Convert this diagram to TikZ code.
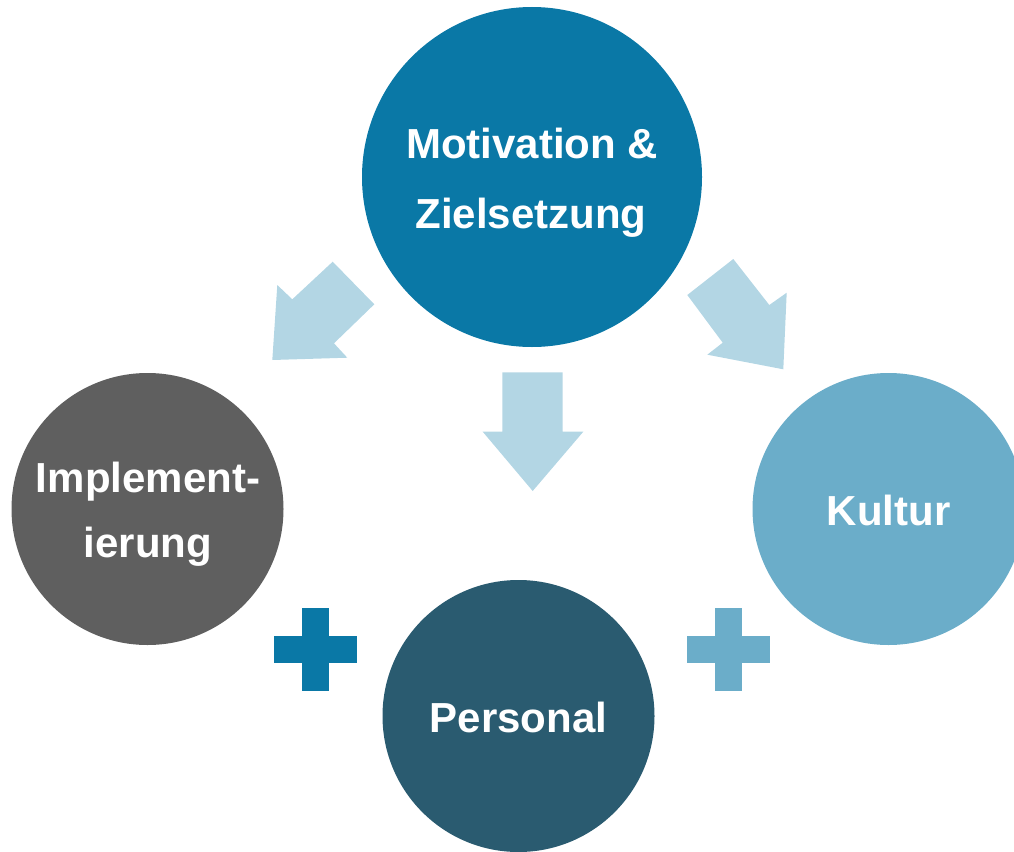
\documentclass[tikz,border=0pt]{standalone}
\usepackage{fontspec}
\setmainfont{Liberation Sans}
\definecolor{cTop}{HTML}{0A78A6}
\definecolor{cLeft}{HTML}{5F5F5F}
\definecolor{cRight}{HTML}{6BADC9}
\definecolor{cBottom}{HTML}{2A5B70}
\definecolor{cArrow}{HTML}{B3D6E4}
\tikzset{
  disc/.style={circle, draw=none, inner sep=0pt, minimum size=#1},
  lbl/.style={text=white, anchor=base, inner sep=0pt, font=\fontsize{42}{50}\selectfont\bfseries},
  blockarrow/.style={fill=cArrow, draw=none},
  plusbar/.style={draw=none}
}
\begin{document}
\begin{tikzpicture}[x=1pt,y=-1pt]
\useasboundingbox (0,0) rectangle (1014,851);
\clip (0,0) rectangle (1014,851);
% circles
\node[disc=340pt, fill=cTop] (mot) at (532,177) {};
\node[disc=272pt, fill=cLeft] (imp) at (147.5,509) {};
\node[disc=272pt, fill=cRight] (kul) at (888.5,509) {};
\node[disc=272pt, fill=cBottom] (per) at (518.5,716) {};
% labels
\node[lbl] (motA) at (532,158.3) {Motivation \&};
\node[lbl] (motB) at (531,228.3) {Zielsetzung};
\node[lbl] (impA) at (148,492) {Implement-};
\node[lbl] (impB) at (148,557) {ierung};
\node[lbl] (kulA) at (888.5,525) {Kultur};
\node[lbl] (perA) at (518.5,732.7) {Personal};
% block arrows
\fill[blockarrow] (502.3,372.3) -- (562.7,372.3) -- (562.7,431.7) -- (583.3,431.7) -- (532.7,491) -- (482.7,431.7) -- (502.3,431.7) -- cycle;
\fill[blockarrow] (332.7,261.7) -- (374.3,304.3) -- (334,343.3) -- (347.3,357.7) -- (272.3,360) -- (277.3,285) -- (292.3,299.3) -- cycle;
\fill[blockarrow] (733.3,259) -- (769.3,305) -- (786.7,292.7) -- (783.3,369.3) -- (707.3,354.7) -- (722.7,342.7) -- (687.3,295) -- cycle;
% plus signs
\fill[plusbar, cTop] (274,636) rectangle (357,662.7);
\fill[plusbar, cTop] (302,608) rectangle (328.7,691);
\fill[plusbar, cRight] (687.3,636) rectangle (770.3,662.7);
\fill[plusbar, cRight] (715.3,608) rectangle (742,691);
\end{tikzpicture}
\end{document}
